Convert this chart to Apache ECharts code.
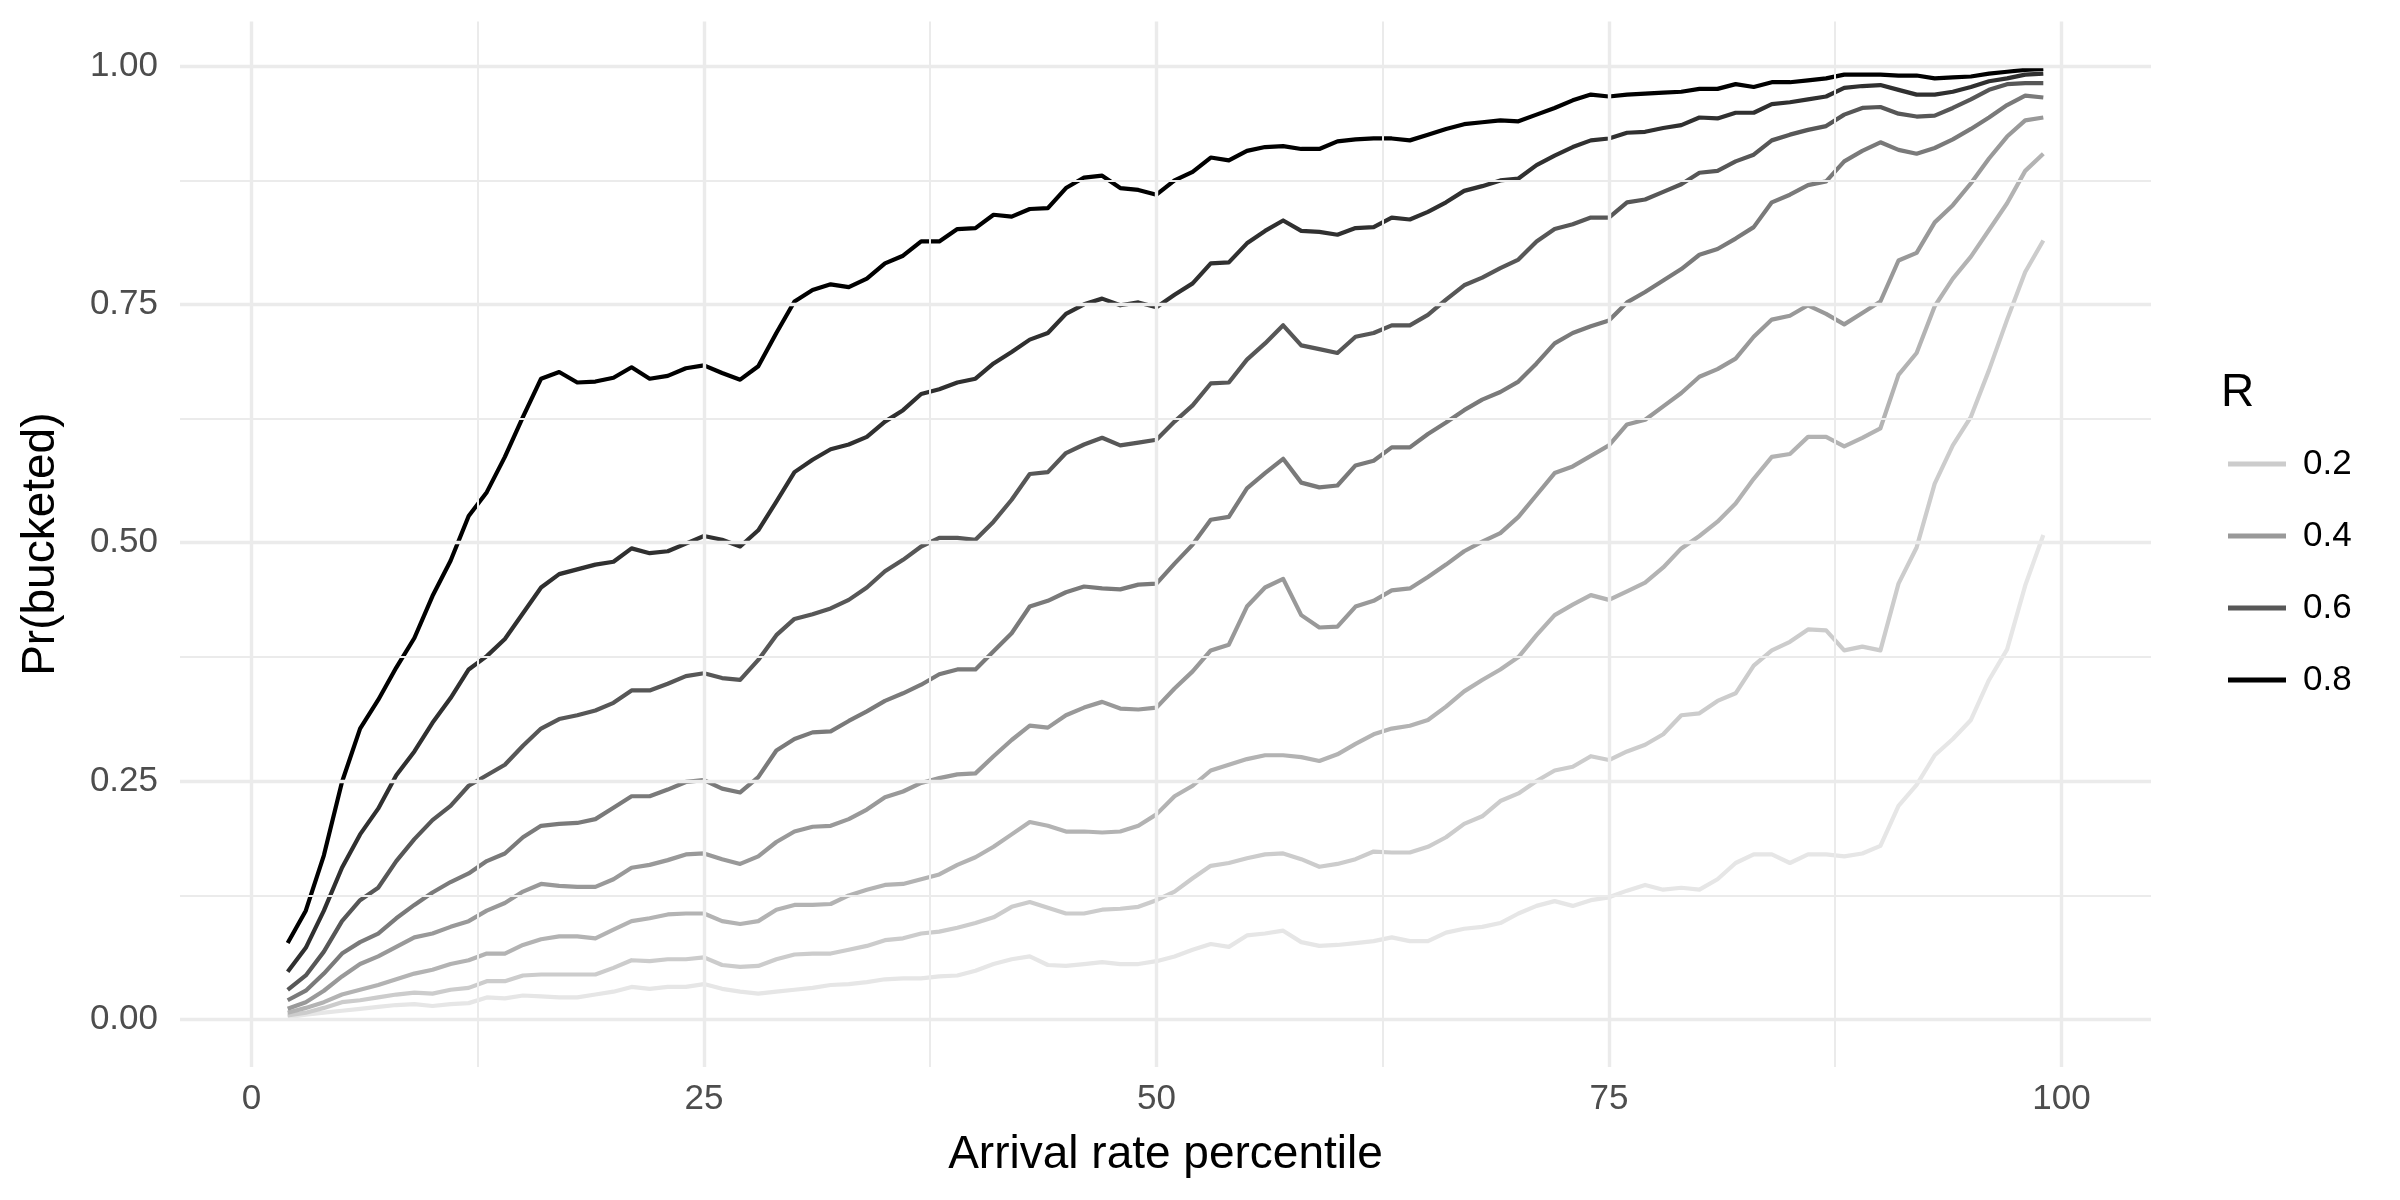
<!DOCTYPE html>
<html><head><meta charset="utf-8">
<script src="https://cdn.jsdelivr.net/npm/echarts@6/dist/echarts.min.js"></script>
<style>html,body{margin:0;padding:0;background:#fff}#c{width:2400px;height:1200px}</style>
</head><body><div id="c"></div>
<script>
const PCT = [2,3,4,5,6,7,8,9,10,11,12,13,14,15,16,17,18,19,20,21,22,23,24,25,26,27,28,29,30,31,32,33,34,35,36,37,38,39,40,41,42,43,44,45,46,47,48,49,50,51,52,53,54,55,56,57,58,59,60,61,62,63,64,65,66,67,68,69,70,71,72,73,74,75,76,77,78,79,80,81,82,83,84,85,86,87,88,89,90,91,92,93,94,95,96,97,98,99];

const R_NAMES = ['0.1','0.2','0.3','0.4','0.5','0.6','0.7','0.8'];
const R_COLORS = ['#e6e6e6','#cccccc','#b3b3b3','#999999','#7a7a7a','#575757','#303030','#000000'];
const LEGEND_SHOWN = ['0.2','0.4','0.6','0.8'];

const r01 = [0.002,0.005,0.007,0.009,0.011,0.013,0.015,0.016,0.014,0.016,
 0.017,0.023,0.022,0.025,0.024,0.023,0.023,0.026,0.029,0.034,
 0.032,0.034,0.034,0.037,0.032,0.029,0.027,0.029,0.031,0.033,
 0.036,0.037,0.039,0.042,0.043,0.043,0.045,0.046,0.051,0.058,
 0.063,0.066,0.057,0.056,0.058,0.060,0.058,0.058,0.061,0.066,
 0.073,0.079,0.076,0.088,0.090,0.093,0.081,0.077,0.078,0.080,
 0.082,0.086,0.082,0.082,0.091,0.095,0.097,0.101,0.111,0.119,
 0.124,0.119,0.125,0.128,0.135,0.141,0.136,0.138,0.136,0.147,
 0.164,0.173,0.173,0.164,0.173,0.173,0.171,0.174,0.182,0.224,
 0.246,0.277,0.294,0.314,0.356,0.388,0.455,0.508];
const r02 = [0.004,0.007,0.012,0.018,0.020,0.023,0.026,0.028,0.027,0.031,
 0.033,0.040,0.040,0.046,0.047,0.047,0.047,0.047,0.054,0.062,
 0.061,0.063,0.063,0.065,0.057,0.055,0.056,0.063,0.068,0.069,
 0.069,0.073,0.077,0.083,0.085,0.090,0.092,0.096,0.101,0.107,
 0.118,0.123,0.117,0.111,0.111,0.115,0.116,0.118,0.125,0.134,
 0.148,0.161,0.164,0.169,0.173,0.174,0.168,0.160,0.163,0.168,
 0.176,0.175,0.175,0.181,0.191,0.205,0.213,0.229,0.237,0.250,
 0.261,0.265,0.276,0.272,0.281,0.288,0.299,0.319,0.321,0.334,
 0.342,0.371,0.387,0.396,0.409,0.408,0.387,0.391,0.387,0.457,
 0.495,0.562,0.602,0.632,0.681,0.734,0.784,0.817];
const r03 = [0.007,0.012,0.018,0.026,0.031,0.036,0.042,0.048,0.052,0.058,
 0.062,0.069,0.069,0.078,0.084,0.087,0.087,0.085,0.094,0.103,
 0.106,0.110,0.111,0.111,0.103,0.100,0.103,0.115,0.120,0.120,
 0.121,0.130,0.136,0.141,0.142,0.147,0.152,0.162,0.170,0.181,
 0.194,0.207,0.203,0.197,0.197,0.196,0.197,0.203,0.215,0.234,
 0.245,0.261,0.267,0.273,0.277,0.277,0.275,0.271,0.278,0.289,
 0.299,0.305,0.308,0.314,0.328,0.344,0.356,0.367,0.380,0.403,
 0.424,0.435,0.445,0.440,0.449,0.458,0.474,0.494,0.507,0.522,
 0.541,0.567,0.590,0.593,0.611,0.611,0.601,0.610,0.620,0.676,
 0.699,0.748,0.777,0.800,0.828,0.856,0.890,0.908];
const r04 = [0.011,0.018,0.030,0.045,0.058,0.066,0.076,0.086,0.090,0.097,
 0.103,0.114,0.122,0.134,0.142,0.140,0.139,0.139,0.147,0.159,
 0.162,0.167,0.173,0.174,0.168,0.163,0.171,0.186,0.197,0.202,
 0.203,0.210,0.220,0.233,0.239,0.248,0.253,0.257,0.258,0.276,
 0.293,0.308,0.306,0.319,0.327,0.333,0.326,0.325,0.327,0.347,
 0.365,0.387,0.393,0.433,0.453,0.462,0.424,0.411,0.412,0.433,
 0.439,0.450,0.452,0.464,0.477,0.491,0.501,0.510,0.527,0.550,
 0.573,0.580,0.591,0.602,0.624,0.629,0.643,0.657,0.674,0.682,
 0.693,0.716,0.734,0.738,0.749,0.740,0.729,0.741,0.753,0.796,
 0.804,0.836,0.854,0.877,0.903,0.926,0.943,0.946];
const r05 = [0.020,0.030,0.048,0.069,0.081,0.090,0.106,0.120,0.133,0.144,
 0.153,0.166,0.174,0.191,0.203,0.205,0.206,0.210,0.222,0.234,
 0.234,0.241,0.249,0.251,0.242,0.238,0.254,0.282,0.294,0.301,
 0.302,0.313,0.323,0.334,0.342,0.351,0.362,0.367,0.367,0.386,
 0.405,0.433,0.439,0.448,0.454,0.452,0.451,0.456,0.457,0.478,
 0.498,0.524,0.527,0.557,0.573,0.588,0.563,0.558,0.560,0.581,
 0.586,0.600,0.600,0.614,0.626,0.639,0.650,0.658,0.669,0.688,
 0.709,0.720,0.727,0.733,0.752,0.763,0.775,0.787,0.802,0.808,
 0.819,0.831,0.857,0.865,0.875,0.879,0.900,0.911,0.920,0.912,
 0.908,0.914,0.923,0.934,0.946,0.959,0.969,0.967];
const r06 = [0.031,0.046,0.071,0.103,0.125,0.138,0.166,0.189,0.209,0.224,
 0.245,0.256,0.267,0.287,0.305,0.315,0.319,0.324,0.332,0.345,
 0.345,0.352,0.360,0.363,0.358,0.356,0.377,0.403,0.420,0.425,
 0.431,0.440,0.453,0.470,0.482,0.496,0.505,0.505,0.503,0.522,
 0.545,0.572,0.574,0.594,0.603,0.610,0.602,0.605,0.608,0.627,
 0.644,0.667,0.668,0.692,0.709,0.728,0.707,0.703,0.699,0.716,
 0.720,0.728,0.728,0.739,0.755,0.770,0.778,0.788,0.797,0.816,
 0.829,0.834,0.841,0.841,0.857,0.860,0.868,0.876,0.888,0.890,
 0.900,0.907,0.922,0.928,0.933,0.937,0.949,0.956,0.957,0.950,
 0.947,0.948,0.956,0.965,0.975,0.981,0.982,0.982];
const r07 = [0.050,0.075,0.114,0.159,0.194,0.221,0.256,0.281,0.311,0.337,
 0.367,0.381,0.399,0.426,0.453,0.467,0.472,0.477,0.480,0.494,
 0.489,0.491,0.499,0.507,0.503,0.496,0.513,0.543,0.574,0.587,
 0.598,0.603,0.611,0.627,0.639,0.656,0.661,0.668,0.672,0.688,
 0.700,0.713,0.720,0.740,0.750,0.756,0.749,0.752,0.747,0.760,
 0.772,0.793,0.794,0.814,0.827,0.838,0.827,0.826,0.823,0.830,
 0.831,0.841,0.839,0.847,0.857,0.869,0.874,0.880,0.882,0.896,
 0.906,0.915,0.922,0.924,0.930,0.931,0.935,0.938,0.946,0.945,
 0.951,0.951,0.960,0.962,0.965,0.968,0.977,0.979,0.980,0.975,
 0.970,0.970,0.973,0.978,0.984,0.987,0.991,0.992];
const r08 = [0.080,0.114,0.172,0.249,0.305,0.335,0.369,0.400,0.444,0.481,
 0.528,0.553,0.590,0.632,0.672,0.679,0.668,0.669,0.673,0.684,
 0.672,0.675,0.683,0.686,0.678,0.671,0.685,0.720,0.753,0.765,
 0.771,0.768,0.777,0.793,0.801,0.816,0.816,0.829,0.830,0.844,
 0.842,0.850,0.851,0.872,0.883,0.885,0.872,0.870,0.865,0.880,
 0.889,0.904,0.901,0.911,0.915,0.916,0.913,0.913,0.921,0.923,
 0.924,0.924,0.922,0.928,0.934,0.939,0.941,0.943,0.942,0.949,
 0.956,0.964,0.970,0.968,0.970,0.971,0.972,0.973,0.976,0.976,
 0.981,0.978,0.983,0.983,0.985,0.987,0.991,0.991,0.991,0.990,
 0.990,0.987,0.988,0.989,0.992,0.994,0.996,0.997];

const SERIES_VALUES = [r01, r02, r03, r04, r05, r06, r07, r08];

const X_TICKS = [0, 25, 50, 75, 100];
const X_MINOR = [12.5, 37.5, 62.5, 87.5];
const Y_TICKS = [0, 0.25, 0.5, 0.75, 1];
const Y_MINOR = [0.125, 0.375, 0.625, 0.875];

const FONT = 'Liberation Sans, Arial, Helvetica, sans-serif';
const GRID_COLOR = '#ebebeb';

const gridLines = []
  .concat(X_MINOR.map(v => ({ xAxis: v, lineStyle: { width: 2, color: GRID_COLOR, type: 'solid' } })))
  .concat(Y_MINOR.map(v => ({ yAxis: v, lineStyle: { width: 2, color: GRID_COLOR, type: 'solid' } })))
  .concat(X_TICKS.map(v => ({ xAxis: v, lineStyle: { width: 3.4, color: GRID_COLOR, type: 'solid' } })))
  .concat(Y_TICKS.map(v => ({ yAxis: v, lineStyle: { width: 3.4, color: GRID_COLOR, type: 'solid' } })));

const series = [{
  type: 'line', name: '__grid', data: [], silent: true, z: 1,
  markLine: {
    silent: true, animation: false, symbol: ['none', 'none'],
    label: { show: false }, emphasis: { disabled: true },
    lineStyle: { type: 'solid', color: GRID_COLOR },
    data: gridLines
  }
}];
R_NAMES.forEach((name, i) => {
  series.push({
    type: 'line', name: name, z: 2,
    data: PCT.map((x, j) => [x, SERIES_VALUES[i][j]]),
    showSymbol: false, symbol: 'none', smooth: false,
    color: R_COLORS[i],
    lineStyle: { width: 4.2, color: R_COLORS[i], join: 'round', cap: 'butt' },
    emphasis: { disabled: true }, silent: true
  });
});

const chart = echarts.init(document.getElementById('c'), null, { renderer: 'canvas' });
chart.setOption({
  animation: false,
  backgroundColor: '#ffffff',
  textStyle: { fontFamily: FONT },
  title: {
    text: 'R', left: 2221, top: 370, padding: 0,
    textStyle: { fontFamily: FONT, fontSize: 46, fontWeight: 'normal', color: '#000000' }
  },
  legend: {
    data: LEGEND_SHOWN, orient: 'vertical', left: 2228, top: 444,
    icon: 'rect', itemWidth: 58, itemHeight: 5, itemGap: 32,
    selectedMode: false, padding: 0,
    textStyle: { fontFamily: FONT, fontSize: 35, color: '#000000', lineHeight: 40, padding: [0, 0, 0, 12] }
  },
  grid: { left: 180, top: 21.4, width: 1971, height: 1045.5, containLabel: false },
  xAxis: {
    type: 'value', min: -3.95, max: 104.95,
    name: 'Arrival rate percentile', nameLocation: 'middle', nameGap: 65,
    nameTextStyle: { fontFamily: FONT, fontSize: 46, color: '#000000' },
    axisLine: { show: false }, axisTick: { show: false, customValues: X_TICKS },
    splitLine: { show: false },
    axisLabel: { customValues: X_TICKS, fontFamily: FONT, fontSize: 35, color: '#4d4d4d', margin: 15,
      formatter: v => String(v) }
  },
  yAxis: {
    type: 'value', min: -0.0499, max: 1.0468,
    name: 'Pr(bucketed)', nameLocation: 'middle', nameGap: 116, nameRotate: 90,
    nameTextStyle: { fontFamily: FONT, fontSize: 46, color: '#000000' },
    axisLine: { show: false }, axisTick: { show: false, customValues: Y_TICKS },
    splitLine: { show: false },
    axisLabel: { customValues: Y_TICKS, fontFamily: FONT, fontSize: 35, color: '#4d4d4d', margin: 22,
      formatter: v => Number(v).toFixed(2) }
  },
  series: series
});
</script>
</body></html>
